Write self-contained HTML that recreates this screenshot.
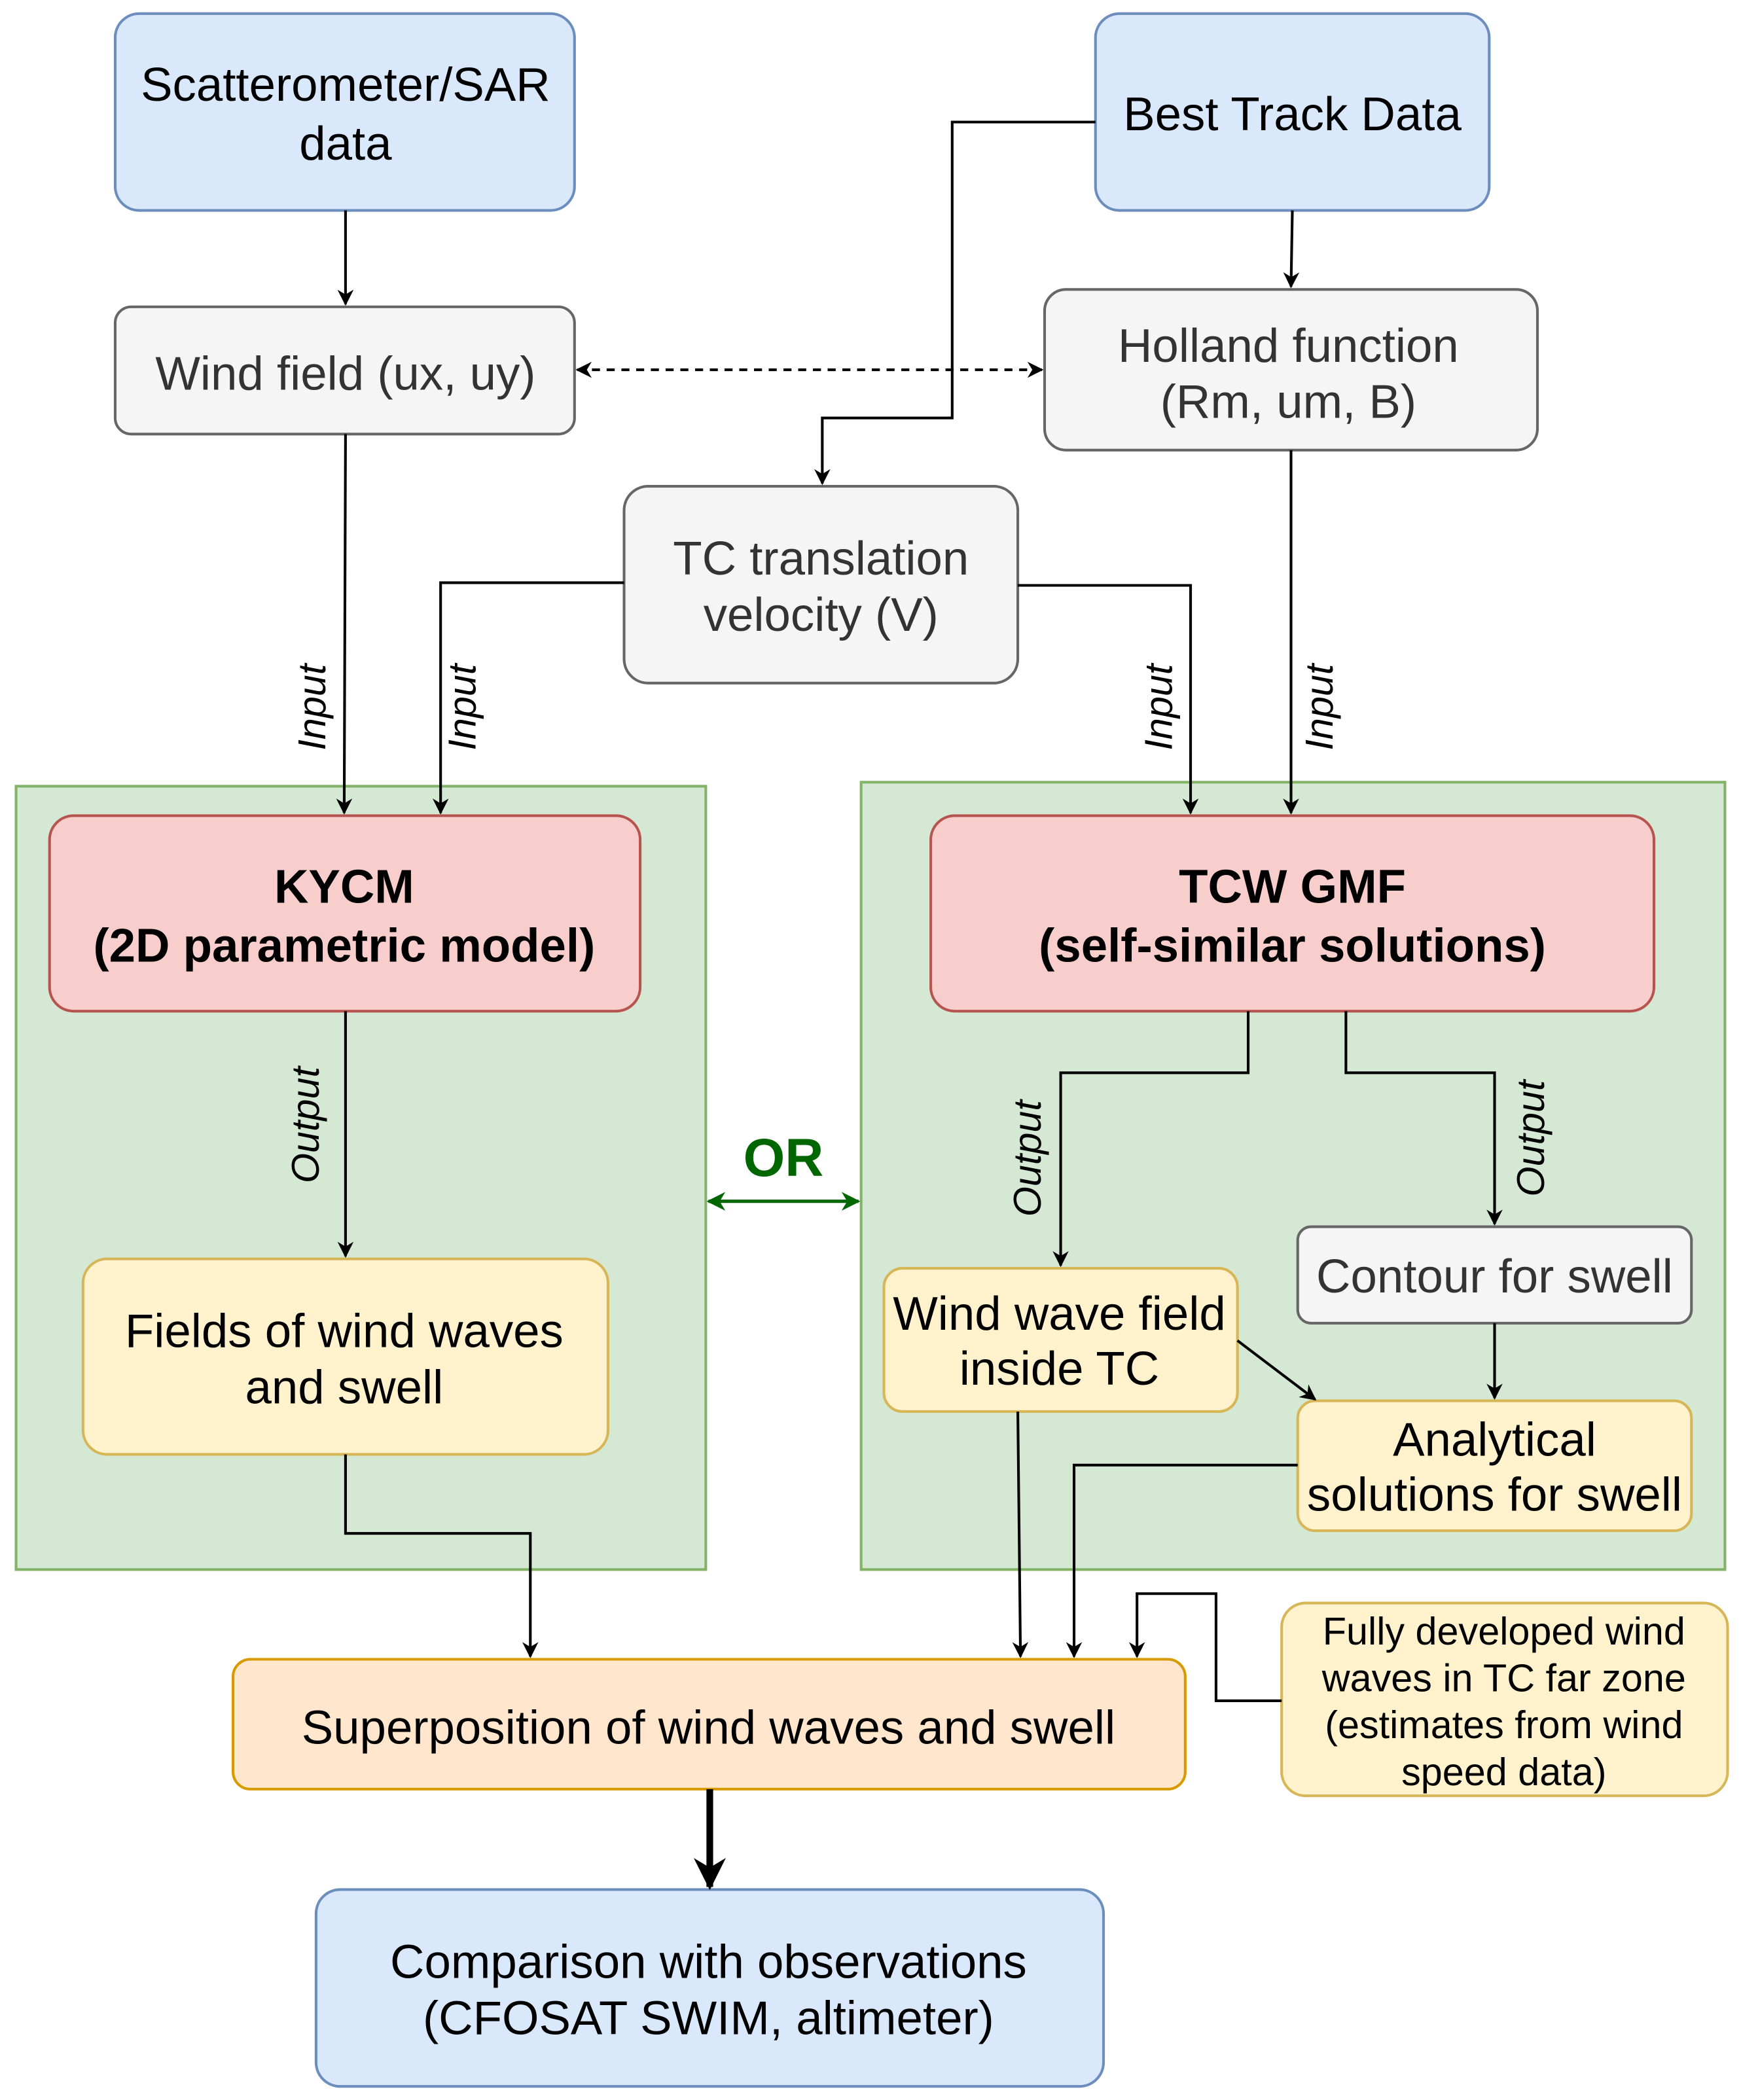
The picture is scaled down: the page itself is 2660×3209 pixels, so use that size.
<!DOCTYPE html>
<html><head><meta charset="utf-8"><style>html,body{margin:0;padding:0;background:#fff}svg{display:block}</style></head>
<body>
<svg width="2660" height="3209" viewBox="0 0 1300 1568" xmlns="http://www.w3.org/2000/svg" font-family="Liberation Sans, Arial, sans-serif">
<defs>
<marker id="a" viewBox="0 0 10 10" refX="9" refY="5" markerWidth="12" markerHeight="12" orient="auto-start-reverse" markerUnits="userSpaceOnUse"><path d="M0,0 L10,5 L0,10 L3,5 z" fill="#000"/></marker>
<marker id="a2" viewBox="0 0 10 10" refX="9" refY="5" markerWidth="24" markerHeight="24" orient="auto" markerUnits="userSpaceOnUse"><path d="M0,0 L10,5 L0,10 L3,5 z" fill="#000"/></marker>
<marker id="g" viewBox="0 0 10 10" refX="9" refY="5" markerWidth="14" markerHeight="14" orient="auto-start-reverse" markerUnits="userSpaceOnUse"><path d="M0,0 L10,5 L0,10 L3,5 z" fill="#006600"/></marker>
</defs>
<rect width="1300" height="1568" fill="#fff"/>
<rect x="12" y="587" width="515" height="585" fill="#d5e8d4" stroke="#82b366" stroke-width="2"/>
<rect x="643" y="584" width="645" height="588" fill="#d5e8d4" stroke="#82b366" stroke-width="2"/>
<g stroke-width="2">
<rect x="86" y="10" width="343" height="147" rx="18" fill="#dae8fc" stroke="#6c8ebf"/>
<rect x="818" y="10" width="294" height="147" rx="18" fill="#dae8fc" stroke="#6c8ebf"/>
<rect x="86" y="229" width="343" height="95" rx="12" fill="#f5f5f5" stroke="#666"/>
<rect x="780" y="216" width="368" height="120" rx="16" fill="#f5f5f5" stroke="#666"/>
<rect x="466" y="363" width="294" height="147" rx="18" fill="#f5f5f5" stroke="#666"/>
<rect x="37" y="609" width="441" height="146" rx="18" fill="#f8cecc" stroke="#b85450"/>
<rect x="695" y="609" width="540" height="146" rx="18" fill="#f8cecc" stroke="#b85450"/>
<rect x="62" y="940" width="392" height="146" rx="18" fill="#fff2cc" stroke="#d6b656"/>
<rect x="660" y="947" width="264" height="107" rx="14" fill="#fff2cc" stroke="#d6b656"/>
<rect x="969" y="916" width="294" height="72" rx="10" fill="#f5f5f5" stroke="#666"/>
<rect x="969" y="1046" width="294" height="97" rx="13" fill="#fff2cc" stroke="#d6b656"/>
<rect x="174" y="1239" width="711" height="97" rx="13" fill="#ffe6cc" stroke="#d79b00"/>
<rect x="957" y="1197" width="333" height="144" rx="18" fill="#fff2cc" stroke="#d6b656"/>
<rect x="236" y="1411" width="588" height="147" rx="18" fill="#dae8fc" stroke="#6c8ebf"/>
</g>
<g fill="none" stroke="#000" stroke-width="2" marker-end="url(#a)">
<path d="M258,157 V227"/>
<path d="M965,157 L964,214"/>
<path d="M818,91 H711 V312 H614 V361"/>
<path d="M258,324 L257,607"/>
<path d="M466,435 H329 V607"/>
<path d="M760,437 H889 V607"/>
<path d="M964,336 V607"/>
<path d="M258,755 V938"/>
<path d="M932,755 V801 H792 V945"/>
<path d="M1005,755 V801 H1116 V914"/>
<path d="M1116,988 V1044"/>
<path d="M924,1001 L982,1045"/>
<path d="M258,1086 V1145 H396 V1237"/>
<path d="M760,1054 L762,1237"/>
<path d="M969,1094 H802 V1237"/>
<path d="M957,1270 H908 V1190 H849 V1237"/>
</g>
<path d="M431,276 H778" fill="none" stroke="#000" stroke-width="2" stroke-dasharray="6,5" marker-start="url(#a)" marker-end="url(#a)"/>
<path d="M530,1336 V1409" fill="none" stroke="#000" stroke-width="5" marker-end="url(#a2)"/>
<path d="M529,897 H641" fill="none" stroke="#006600" stroke-width="2.5" marker-start="url(#g)" marker-end="url(#g)"/>
<text x="585" y="878" font-size="40" font-weight="bold" fill="#006600" text-anchor="middle">OR</text>
<g font-size="29" font-style="italic" fill="#000" text-anchor="middle">
<text transform="translate(243,528) rotate(-90)">Input</text>
<text transform="translate(355,528) rotate(-90)">Input</text>
<text transform="translate(875,528) rotate(-90)">Input</text>
<text transform="translate(995,528) rotate(-90)">Input</text>
<text transform="translate(238,840) rotate(-90)">Output</text>
<text transform="translate(777,865) rotate(-90)">Output</text>
<text transform="translate(1153,850) rotate(-90)">Output</text>
</g>
<g font-size="35.5" text-anchor="middle" fill="#000">
<text x="258" y="75">Scatterometer/SAR</text><text x="258" y="119">data</text>
<text x="965" y="97">Best Track Data</text>
<text x="258" y="291" fill="#333">Wind field (ux, uy)</text>
<text x="962" y="270" fill="#333">Holland function</text><text x="962" y="312" fill="#333">(Rm, um, B)</text>
<text x="613" y="429" fill="#333">TC translation</text><text x="613" y="471" fill="#333">velocity (V)</text>
<text x="257" y="674" font-weight="bold">KYCM</text><text x="257" y="718" font-weight="bold">(2D parametric model)</text>
<text x="965" y="674" font-weight="bold">TCW GMF</text><text x="965" y="718" font-weight="bold">(self-similar solutions)</text>
<text x="257" y="1006">Fields of wind waves</text><text x="257" y="1048">and swell</text>
<text x="791" y="993">Wind wave field</text><text x="791" y="1034">inside TC</text>
<text x="1116" y="965" fill="#333">Contour for swell</text>
<text x="1116" y="1087">Analytical</text><text x="1116" y="1128">solutions for swell</text>
<text x="529" y="1302">Superposition of wind waves and swell</text>
<text x="529" y="1477">Comparison with observations</text><text x="529" y="1519">(CFOSAT SWIM, altimeter)</text>
</g>
<g font-size="29" text-anchor="middle" fill="#000">
<text x="1123" y="1228">Fully developed wind</text>
<text x="1123" y="1263">waves in TC far zone</text>
<text x="1123" y="1298">(estimates from wind</text>
<text x="1123" y="1333">speed data)</text>
</g>
</svg>
</body></html>
